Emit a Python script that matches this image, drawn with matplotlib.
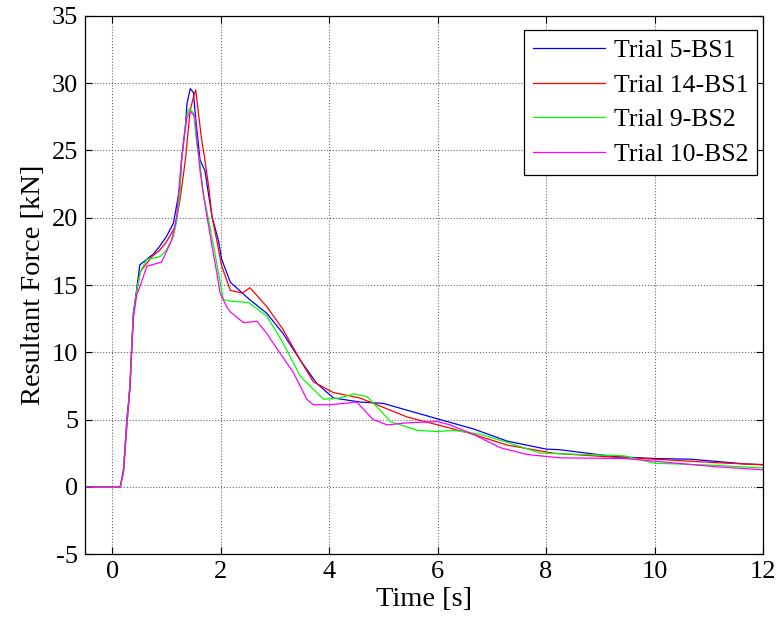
import matplotlib
matplotlib.use('Agg')
import matplotlib.pyplot as plt

t_blue = [-0.5, 0.15, 0.21, 0.27, 0.30, 0.33, 0.36, 0.39, 0.45, 0.51, 0.76, 0.88, 1.0, 1.13,
          1.25, 1.28, 1.35, 1.38, 1.44, 1.50, 1.53, 1.62, 1.71, 1.84, 1.96, 2.02, 2.18, 2.54,
          2.85, 3.15, 3.47, 3.77, 4.08, 4.57, 5.0, 5.43, 6.0, 6.66, 7.28, 8.0, 8.26, 9.24,
          10.0, 10.66, 11.1, 11.65, 12.0]
f_blue = [0.0, 0.0, 1.3, 5.0, 6.2, 7.7, 10.4, 12.9, 14.6, 16.5, 17.3, 17.9, 18.6, 19.6,
          22.3, 24.3, 26.8, 28.5, 29.6, 29.3, 27.8, 24.3, 23.5, 20.1, 18.3, 16.9, 15.2, 13.9,
          12.9, 11.4, 9.4, 7.7, 6.6, 6.3, 6.2, 5.7, 5.05, 4.3, 3.4, 2.8, 2.75, 2.25,
          2.1, 2.05, 1.9, 1.7, 1.65]

t_red = [-0.5, 0.15, 0.21, 0.27, 0.30, 0.33, 0.36, 0.39, 0.45, 0.52, 0.73, 0.88, 1.0, 1.16,
         1.25, 1.35, 1.41, 1.44, 1.50, 1.54, 1.57, 1.59, 1.65, 1.71, 1.78, 1.84, 1.93, 2.02,
         2.18, 2.40, 2.54, 2.85, 3.15, 3.47, 3.71, 4.08, 4.57, 4.94, 5.43, 6.0, 6.66, 7.28,
         8.13, 9.24, 10.0, 11.1, 12.0]
f_red = [0.0, 0.0, 1.1, 4.5, 6.0, 7.5, 10.2, 12.7, 14.5, 16.0, 17.1, 17.6, 18.2, 19.3,
         21.3, 24.3, 26.8, 28.0, 29.0, 29.5, 28.5, 27.8, 25.8, 24.3, 22.3, 20.1, 18.3, 16.4,
         14.6, 14.4, 14.8, 13.4, 11.7, 9.4, 7.8, 7.0, 6.6, 6.0, 5.2, 4.6, 3.9, 3.1,
         2.5, 2.2, 2.05, 1.8, 1.63]

t_green = [-0.5, 0.15, 0.21, 0.27, 0.30, 0.33, 0.36, 0.39, 0.45, 0.52, 0.64, 0.88, 1.0, 1.13,
           1.19, 1.25, 1.28, 1.35, 1.38, 1.42, 1.50, 1.56, 1.62, 1.68, 1.78, 1.87, 1.96, 2.05,
           2.18, 2.51, 2.85, 3.15, 3.47, 3.90, 4.20, 4.45, 4.70, 4.94, 5.13, 5.62, 6.0, 6.3,
           6.79, 7.28, 7.90, 8.26, 9.44, 10.0, 11.1, 12.0]
f_green = [0.0, 0.0, 1.2, 4.8, 6.1, 7.6, 10.3, 12.8, 14.5, 16.0, 16.9, 17.1, 17.6, 18.6,
           19.8, 21.8, 24.3, 26.8, 27.7, 28.1, 27.8, 25.5, 24.0, 21.8, 19.8, 17.9, 15.9, 13.9,
           13.8, 13.7, 12.7, 10.7, 8.2, 6.5, 6.6, 6.9, 6.7, 5.7, 4.85, 4.2, 4.1, 4.2,
           3.9, 3.3, 2.5, 2.45, 2.3, 1.75, 1.6, 1.4]

t_mag = [-0.5, 0.15, 0.21, 0.27, 0.30, 0.33, 0.36, 0.39, 0.45, 0.53, 0.64, 0.91, 1.10, 1.19,
         1.25, 1.31, 1.38, 1.44, 1.53, 1.56, 1.62, 1.68, 1.74, 1.84, 1.93, 1.99, 2.11, 2.18,
         2.42, 2.67, 2.85, 3.10, 3.34, 3.59, 3.71, 4.02, 4.51, 4.81, 5.07, 5.43, 6.0, 6.23,
         6.66, 7.16, 7.65, 8.26, 9.44, 10.0, 11.1, 12.0]
f_mag = [0.0, 0.0, 1.2, 4.6, 6.0, 7.4, 10.0, 12.5, 14.2, 15.1, 16.4, 16.7, 18.35, 20.1,
         23.05, 25.5, 27.5, 27.9, 27.5, 26.0, 23.5, 21.8, 20.3, 17.9, 15.9, 14.4, 13.4, 13.0,
         12.2, 12.3, 11.4, 9.9, 8.5, 6.5, 6.1, 6.1, 6.3, 5.0, 4.6, 4.75, 4.85, 4.6,
         3.9, 2.9, 2.4, 2.15, 2.1, 1.9, 1.5, 1.26]

labels = ['Trial 5-BS1', 'Trial 14-BS1', 'Trial 9-BS2', 'Trial 10-BS2']
colors = ['#0000FF', '#FF0000', '#00FF00', '#FF00FF']

x_ticks = [0, 2, 4, 6, 8, 10, 12]
y_ticks = [-5, 0, 5, 10, 15, 20, 25, 30, 35]

plt.rcParams['font.family'] = ['Liberation Serif', 'DejaVu Serif']
plt.rcParams['axes.unicode_minus'] = False

fig = plt.figure(figsize=(7.78, 6.27), dpi=100)
ax = fig.add_axes([0.1093, 0.1164, 0.8714, 0.8581])

series = [(t_blue, f_blue), (t_red, f_red), (t_green, f_green), (t_mag, f_mag)]
for (t, f), lab, c in zip(series, labels, colors):
    ax.plot(t, f, color=c, linewidth=0.9, label=lab)

ax.set_xlim(-0.5, 12)
ax.set_ylim(-5, 35)
ax.set_xticks(x_ticks)
ax.set_yticks(y_ticks)
ax.tick_params(direction='in', length=5, width=0.8, top=True, right=True,
               labelsize=19, pad=5)
ax.grid(True, linestyle=':', color='#666666', linewidth=0.8)
for s in ax.spines.values():
    s.set_linewidth(0.9)

ax.set_xlabel('Time [s]', fontsize=20.5, labelpad=3)
ax.set_ylabel('Resultant Force [kN]', fontsize=20.5, labelpad=4)

leg = ax.legend(loc='upper right', bbox_to_anchor=(757 / 778, 1 - 30 / 627),
                bbox_transform=fig.transFigure, fontsize=18.5, handlelength=2.8,
                handletextpad=0.35, fancybox=False, framealpha=1, edgecolor='black',
                borderaxespad=0.0, labelspacing=0.45, borderpad=0.35)
leg.get_frame().set_linewidth(0.9)

fig.savefig('out.png', dpi=100)
